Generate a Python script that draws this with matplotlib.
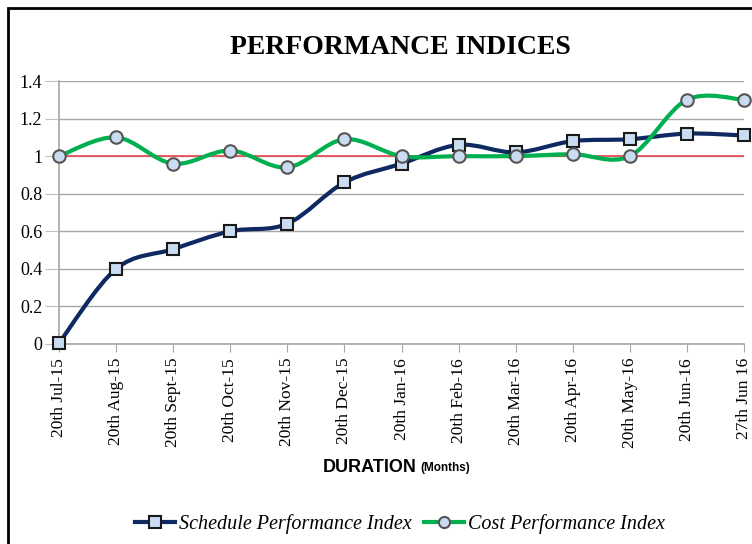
import matplotlib.pyplot as plt
from matplotlib.path import Path
from matplotlib.patches import PathPatch, Rectangle
from matplotlib.lines import Line2D

plt.rcParams["font.family"] = ["Liberation Serif", "DejaVu Serif"]

# --- data ---
dates = ["20th Jul-15", "20th Aug-15", "20th Sept-15", "20th Oct-15", "20th Nov-15",
         "20th Dec-15", "20th Jan-16", "20th Feb-16", "20th Mar-16", "20th Apr-16",
         "20th May-16", "20th Jun-16", "27th Jun 16"]
spi = [0.005, 0.40, 0.505, 0.60, 0.64, 0.86, 0.96, 1.06, 1.02, 1.08, 1.09, 1.12, 1.11]
cpi = [1.00, 1.10, 0.96, 1.03, 0.94, 1.09, 1.00, 1.00, 1.00, 1.01, 1.00, 1.30, 1.30]
baseline = 1.0
yticks = [0, 0.2, 0.4, 0.6, 0.8, 1, 1.2, 1.4]
ylabels = ["0", "0.2", "0.4", "0.6", "0.8", "1", "1.2", "1.4"]

# --- colours ---
navy = "#0f2a63"
green = "#00b050"
red = "#e8505a"
fill = "#c9dcf2"


def smooth_path(xs, ys):
    # bezier smoothing like office charts (catmull-rom control points)
    n = len(xs)
    verts = [(xs[0], ys[0])]
    codes = [Path.MOVETO]
    for i in range(n - 1):
        x0, y0 = (xs[i - 1], ys[i - 1]) if i > 0 else (xs[i], ys[i])
        x1, y1 = xs[i], ys[i]
        x2, y2 = xs[i + 1], ys[i + 1]
        x3, y3 = (xs[i + 2], ys[i + 2]) if i + 2 < n else (x2, y2)
        verts += [(x1 + (x2 - x0) / 6, y1 + (y2 - y0) / 6),
                  (x2 - (x3 - x1) / 6, y2 - (y3 - y1) / 6),
                  (x2, y2)]
        codes += [Path.CURVE4] * 3
    return Path(verts, codes)


W, H = 752, 544
fig = plt.figure(figsize=(W / 100, H / 100), dpi=100)
ax = fig.add_axes([59 / W, 1 - 344 / H, (744 - 59) / W, (344 - 81) / H])

x = list(range(len(dates)))

ax.plot([x[0], x[-1]], [baseline, baseline], color=red, lw=1.3, zorder=2)

ax.add_patch(PathPatch(smooth_path(x, spi), fill=False, edgecolor=navy, lw=3, zorder=3,
                       capstyle="round", joinstyle="round"))
ax.add_patch(PathPatch(smooth_path(x, cpi), fill=False, edgecolor=green, lw=3, zorder=3,
                       capstyle="round", joinstyle="round"))
ax.plot(x, spi, ls="none", marker="s", ms=9, mfc=fill, mec="#1a1a1a", mew=1.5, zorder=4,
        clip_on=False)
ax.plot(x, cpi, ls="none", marker="o", ms=9, mfc=fill, mec="#555555", mew=1.5, zorder=4,
        clip_on=False)

ax.set_xlim(x[0], x[-1])
ax.set_ylim(0, 1.4)
ax.set_yticks(yticks, ylabels, fontsize=13)
ax.set_xticks(x, dates, rotation=90, fontsize=12.5)
ax.grid(axis="y", color="#a6a6a6", lw=1)
ax.set_axisbelow(True)
for s in ["top", "right"]:
    ax.spines[s].set_visible(False)
for s in ["left", "bottom"]:
    ax.spines[s].set_color("#a6a6a6")
    ax.spines[s].set_linewidth(1.2)
ax.tick_params(axis="x", length=6, color="#a6a6a6", pad=4)
ax.tick_params(axis="y", length=10, color="#c0c0c0", pad=2)

fig.text(400 / W, 1 - 47 / H, "PERFORMANCE INDICES", ha="center", va="center",
         fontweight="bold", fontsize=20)
fig.text(323 / W, 1 - 467 / H, "DURATION", ha="left", va="center",
         fontfamily="Liberation Sans", fontweight="bold", fontsize=13)
fig.text(420 / W, 1 - 468 / H, "(Months)", ha="left", va="center",
         fontfamily="Liberation Sans", fontweight="bold", fontsize=8.5)

handles = [
    Line2D([], [], color=navy, lw=3, marker="s", ms=8, mfc=fill, mec="#1a1a1a", mew=1.5),
    Line2D([], [], color=green, lw=3, marker="o", ms=8, mfc=fill, mec="#555555", mew=1.5),
]
fig.legend(handles, ["Schedule Performance Index", "Cost Performance Index"],
           loc="center", bbox_to_anchor=(400 / W, 1 - 524 / H), ncol=2, frameon=False,
           handlelength=2.0, handletextpad=0.2, columnspacing=0.6,
           prop={"style": "italic", "size": 14.5})

fig.patches.append(Rectangle((8 / W, -0.1), 1.2, 1 - 8 / H + 0.1, transform=fig.transFigure,
                             fill=False, edgecolor="black", lw=2))

fig.savefig("out.png", dpi=100)
